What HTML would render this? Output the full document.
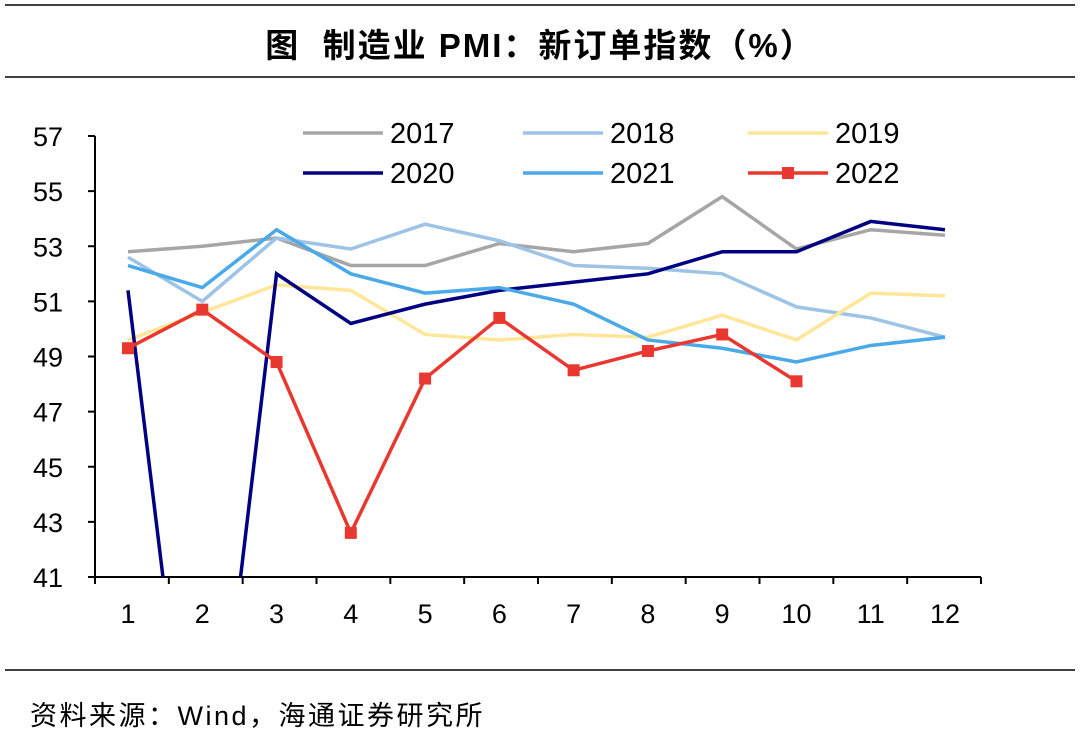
<!DOCTYPE html>
<html><head><meta charset="utf-8"><style>
html,body{margin:0;padding:0;background:#fff;overflow:hidden;width:1080px;height:737px;}
svg{display:block;}
svg text{font-family:"Liberation Sans","Noto Sans CJK SC",sans-serif;}
</style></head><body>
<svg width="1080" height="737" viewBox="0 0 1080 737" xmlns="http://www.w3.org/2000/svg">
<line x1="5" y1="5" x2="1075" y2="5" stroke="#000" stroke-width="1.5"/>
<text x="540" y="57" text-anchor="middle" font-size="33" font-weight="bold" letter-spacing="2">图&#160;&#160;制造业 PMI：新订单指数（%）</text>
<line x1="5" y1="77" x2="1075" y2="77" stroke="#000" stroke-width="1.5"/>
<line x1="5" y1="670" x2="1075" y2="670" stroke="#000" stroke-width="1.5"/>
<text x="30" y="725" font-size="27" letter-spacing="2.5">资料来源：Wind，海通证券研究所</text>
<defs><clipPath id="plot"><rect x="96" y="120" width="890" height="457"/></clipPath></defs>
<g id="axes"></g>
<g id="series" clip-path="url(#plot)"></g>
<g id="legend"></g>
</svg>
<script>
const months = [1,2,3,4,5,6,7,8,9,10,11,12];
const yTicks = [41,43,45,47,49,51,53,55,57];
const s2017 = [52.8,53.0,53.3,52.3,52.3,53.1,52.8,53.1,54.8,52.9,53.6,53.4];
const s2018 = [52.6,51.0,53.3,52.9,53.8,53.2,52.3,52.2,52.0,50.8,50.4,49.7];
const s2019 = [49.6,50.6,51.6,51.4,49.8,49.6,49.8,49.7,50.5,49.6,51.3,51.2];
const s2020 = [51.4,29.3,52.0,50.2,50.9,51.4,51.7,52.0,52.8,52.8,53.9,53.6];
const s2021 = [52.3,51.5,53.6,52.0,51.3,51.5,50.9,49.6,49.3,48.8,49.4,49.7];
const s2022 = [49.3,50.7,48.8,42.6,48.2,50.4,48.5,49.2,49.8,48.1];
const seriesNames = ["2017","2018","2019","2020","2021","2022"];

const NS="http://www.w3.org/2000/svg";
const x = m => 128 + (m-1)*(945-128)/11;
const y = v => 577 - (v-41)*(577-136)/16;
function mk(tag, attrs, parent){const e=document.createElementNS(NS,tag);for(const k in attrs)e.setAttribute(k,attrs[k]);parent.appendChild(e);return e;}
const axes=document.getElementById('axes'), ser=document.getElementById('series'), leg=document.getElementById('legend');

const ya=mk('line',{x1:95,y1:136,x2:95,y2:577,stroke:'#000','stroke-width':2},axes);


const xa=mk('line',{x1:95,y1:577,x2:981,y2:577,stroke:'#000','stroke-width':2},axes);


yTicks.forEach(t=>{
  mk('line',{x1:88,y1:y(t),x2:95,y2:y(t),stroke:'#000','stroke-width':2},axes);
  const tx=mk('text',{x:63,y:y(t)+10,'text-anchor':'end','font-size':27},axes);
  tx.textContent=t;
  
  
});
for(let i=0;i<=12;i++){const xx=95+i*(981-95)/12;mk('line',{x1:xx,y1:577,x2:xx,y2:584,stroke:'#000','stroke-width':2},axes);}
months.forEach(m=>{
  const tx=mk('text',{x:x(m),y:623,'text-anchor':'middle','font-size':27},axes);
  tx.textContent=m;
  
  
});

const cfg=[
 {d:s2017,c:'#a6a6a6'},{d:s2018,c:'#9dc3e6'},{d:s2019,c:'#ffe699'},
 {d:s2020,c:'#000080'},{d:s2021,c:'#4aa9e8'},{d:s2022,c:'#e8382f',mark:true}];
cfg.forEach((s,i)=>{
  const pts=s.d.map((v,j)=>x(months[j])+','+y(v)).join(' ');
  const pl=mk('polyline',{points:pts,fill:'none',stroke:s.c,'stroke-width':3.5,'stroke-linejoin':'miter'},ser);
  
  
  if(s.mark) s.d.forEach((v,j)=>{
    const r=mk('rect',{x:x(months[j])-6,y:y(v)-6,width:12,height:12,fill:s.c},ser);
    
    
  });
});

const lx=[303,523,748], lyy=[133,173];
cfg.forEach((s,i)=>{
  const X=lx[i%3], Y=lyy[Math.floor(i/3)];
  const g=mk('g',{},leg);
  
  
  mk('line',{x1:X,y1:Y,x2:X+80,y2:Y,stroke:s.c,'stroke-width':3.5},g);
  if(s.mark) mk('rect',{x:X+34,y:Y-6,width:12,height:12,fill:s.c},g);
  const t=mk('text',{x:X+87,y:Y+10,'font-size':29},g);
  t.textContent=seriesNames[i];
});
</script>
</body></html>
